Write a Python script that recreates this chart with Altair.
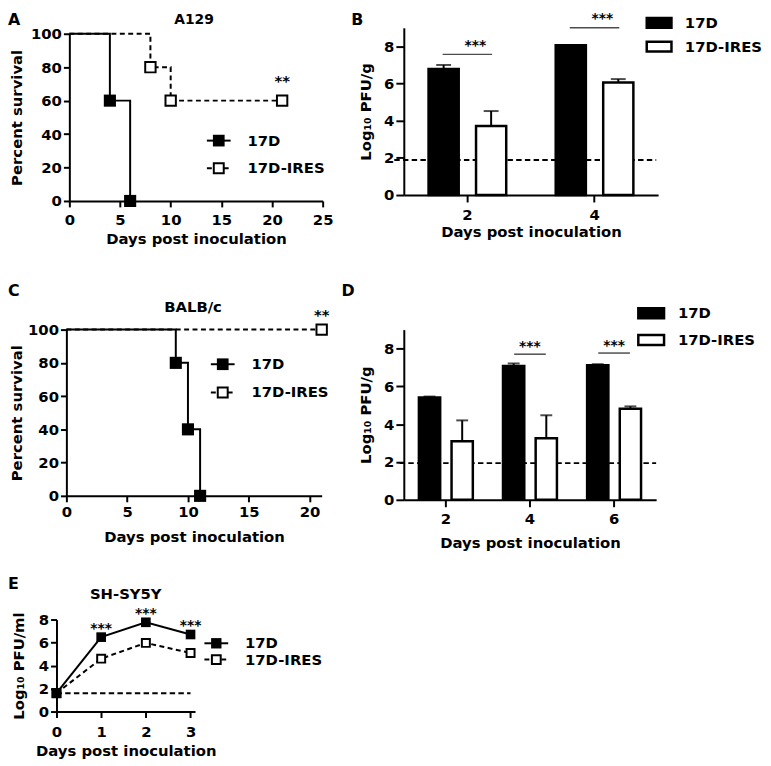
import altair as alt
import pandas as pd

FONT = "DejaVu Sans"
W, H = 763, 758
SERIES = ["17D", "17D-IRES"]

# ---------------- data ----------------
# Panel A (A129 survival)
A_DAYS_17D = [0, 4, 6]
A_SURV_17D = [100, 60, 0]
A_DAYS_IRES = [0, 8, 10, 21]
A_SURV_IRES = [100, 80, 60, 60]
A_SIG_DAY = [21]
A_SIG_Y = [72]

# Panel B (Log10 PFU/g, A129)
B_DAYS = ["2", "4"]
B_17D = [6.79, 8.06]
B_17D_TOP = [7.00, None]
B_IRES = [3.72, 6.06]
B_IRES_TOP = [4.52, 6.24]
B_SIG_DAYS = ["2", "4"]
B_SIG_LINE = [7.57, 9.0]
B_SIG_STAR = [8.0, 9.45]
B_LOD = 1.88
B_LOD_SPAN = [0.85, 4.97]

# Panel C (BALB/c survival)
C_DAYS_17D = [0, 9, 10, 11]
C_SURV_17D = [100, 80, 40, 0]
C_DAYS_IRES = [0, 21]
C_SURV_IRES = [100, 100]
C_SIG_DAY = [21]
C_SIG_Y = [109]

# Panel D (Log10 PFU/g, BALB/c)
D_DAYS = ["2", "4", "6"]
D_17D = [5.41, 7.07, 7.12]
D_17D_TOP = [5.46, 7.21, 7.17]
D_IRES = [3.10, 3.25, 4.82]
D_IRES_TOP = [4.20, 4.47, 4.94]
D_SIG_DAYS = ["4", "6"]
D_SIG_LINE = [7.70, 7.76]
D_SIG_STAR = [8.1, 8.15]
D_LOD = 1.94
D_LOD_SPAN = [0.9, 7.0]

# Panel E (SH-SY5Y growth)
E_DAYS = [0, 1, 2, 3]
E_17D = [1.6, 6.47, 7.76, 6.70]
E_IRES = [1.6, 4.60, 5.97, 5.09]
E_SIG_DAYS = [1, 2, 3]
E_SIG_Y = [7.2, 8.47, 7.47]
E_LOD = 1.6
E_LOD_SPAN = [0, 3]


# ---------------- helpers ----------------
def qs(domain, rng):
    return alt.Scale(domain=domain, range=rng, nice=False, zero=False)


def one():
    return pd.DataFrame({"k": [0]})


def label(text, x, y, size, align="center"):
    return alt.Chart(one()).mark_text(
        text=text, font=FONT, fontSize=size, fontWeight="bold",
        align=align, baseline="middle", color="black"
    ).encode(x=alt.value(x), y=alt.value(y))


def xaxis(y0, values, pad=4, lpad=5, tick=6):
    return alt.Axis(orient="bottom", offset=y0 - H, values=values,
                    title="Days post inoculation", titlePadding=pad,
                    labelPadding=lpad, tickSize=tick, labelAngle=0)


def yaxis(x0, values, title, pad=6, tick=6):
    return alt.Axis(orient="left", offset=-x0, values=values, title=title,
                    titlePadding=pad, tickSize=tick, labelPadding=2)


def survival_panel(d17, s17, dir_, sir, sig_day, sig_y, xdom, xrng, ydom, yrng, xvals,
                   lpad, tpad, ypad):
    XS = qs(xdom, xrng)
    YS = qs(ydom, yrng)
    XA = xaxis(yrng[0], xvals, pad=tpad, lpad=lpad)
    YA = yaxis(xrng[0], [0, 20, 40, 60, 80, 100], "Percent survival", pad=ypad)
    df17 = pd.DataFrame({"day": d17, "pct": s17})
    dfir = pd.DataFrame({"day": dir_, "pct": sir})
    sigdf = pd.DataFrame({"day": sig_day, "pct": sig_y})
    X = alt.X("day:Q", scale=XS, axis=XA)
    Y = alt.Y("pct:Q", scale=YS, axis=YA)
    line_ir = alt.Chart(dfir).mark_line(
        interpolate="step-after", color="black", strokeWidth=2, strokeDash=[5, 3.5]
    ).encode(x=X, y=Y)
    line_17 = alt.Chart(df17).mark_line(
        interpolate="step-after", color="black", strokeWidth=2
    ).encode(x=X, y=Y)
    pts_ir = alt.Chart(dfir).transform_filter("datum.day > 0").mark_point(
        shape="square", filled=True, fill="white", stroke="black", strokeWidth=2, size=110, opacity=1
    ).encode(x=X, y=Y)
    pts_17 = alt.Chart(df17).transform_filter("datum.day > 0").mark_point(
        shape="square", filled=True, color="black", size=150, opacity=1
    ).encode(x=X, y=Y)
    sig = alt.Chart(sigdf).mark_text(
        text="**", font=FONT, fontSize=15, fontWeight="bold", color="black"
    ).encode(x=X, y=Y)
    return alt.layer(line_ir, line_17, pts_ir, pts_17, sig)


def bar_panel(days, m17, t17, mir, tir, sig_days, sig_line, sig_star,
              xrng, yrng, pin, pout, cap, sigw, lpad, tpad, star_dx):
    XS = alt.Scale(domain=days, range=xrng, paddingInner=0, paddingOuter=0)
    YS = qs([0, 9], yrng)
    OS = alt.Scale(domain=SERIES, paddingInner=pin, paddingOuter=pout)
    FS = alt.Scale(domain=SERIES, range=["black", "white"])
    XA = xaxis(yrng[0], days, pad=tpad, lpad=lpad, tick=7)
    YA = yaxis(xrng[0], [0, 2, 4, 6, 8], "Log₁₀ PFU/g", pad=10, tick=8)
    bars = pd.DataFrame({
        "day": days * 2,
        "series": [SERIES[0]] * len(days) + [SERIES[1]] * len(days),
        "value": m17 + mir,
        "top": t17 + tir,
    })
    errs = bars.dropna(subset=["top"])
    sig = pd.DataFrame({"day": sig_days, "value": sig_line, "top": sig_star})

    X = alt.X("day:N", scale=XS, axis=XA, sort=days)
    YV = alt.Y("value:Q", scale=YS, axis=YA)
    YT = alt.Y("top:Q", scale=YS, axis=YA)
    off = alt.XOffset("series:N", scale=OS, sort=SERIES)
    b = alt.Chart(bars).mark_bar(stroke="black", strokeWidth=2.5).encode(
        x=X, xOffset=off, y=YV,
        fill=alt.Fill("series:N", scale=FS, legend=None),
    )
    er = alt.Chart(errs).mark_rule(color="black", strokeWidth=2).encode(
        x=X, xOffset=off, y=YV, y2="top:Q")
    ec = alt.Chart(errs).mark_tick(orient="horizontal", color="black", size=cap, thickness=2).encode(
        x=X, xOffset=off, y=YT)
    sl = alt.Chart(sig).mark_tick(orient="horizontal", color="black", size=sigw, thickness=1.5).encode(
        x=X, y=YV)
    st = alt.Chart(sig).mark_text(text="***", font=FONT, fontSize=14, fontWeight="bold",
                                  color="black", dx=star_dx).encode(x=X, y=YT)
    return alt.layer(b, er, ec, sl, st)


def lod_layer(level, span, xdom, xrng, ydom, yrng):
    df = pd.DataFrame({"x": [span[0]], "x2": [span[1]], "y": [level]})
    return alt.Chart(df).mark_rule(color="black", strokeWidth=2, strokeDash=[5.5, 3.3]).encode(
        x=alt.X("x:Q", scale=qs(xdom, xrng), axis=None), x2="x2:Q",
        y=alt.Y("y:Q", scale=qs(ydom, yrng), axis=None))


def legend_line(x, y, dashed, filled, text, size):
    rule_kw = dict(color="black", strokeWidth=2)
    if dashed:
        rule_kw["strokeDash"] = [5, 3.5]
    r = alt.Chart(one()).mark_rule(**rule_kw).encode(
        x=alt.value(x - 12), x2=alt.value(x + 12), y=alt.value(y))
    if filled:
        p = alt.Chart(one()).mark_point(shape="square", filled=True, color="black",
                                        size=size, opacity=1).encode(x=alt.value(x), y=alt.value(y))
    else:
        p = alt.Chart(one()).mark_point(shape="square", filled=True, fill="white", stroke="black",
                                        strokeWidth=2, size=size * 0.72, opacity=1).encode(
            x=alt.value(x), y=alt.value(y))
    t = label(text, x + 29, y, 15, align="left")
    return [r, p, t]


def legend_box(x0, x1, y, filled, text, tx):
    r = alt.Chart(one()).mark_rect(fill="black" if filled else "white", stroke="black",
                                   strokeWidth=2.5).encode(
        x=alt.value(x0), x2=alt.value(x1), y=alt.value(y - 5), y2=alt.value(y + 5))
    return [r, label(text, tx, y, 15, align="left")]


# ---------------- panels ----------------
panelA = survival_panel(A_DAYS_17D, A_SURV_17D, A_DAYS_IRES, A_SURV_IRES, A_SIG_DAY, A_SIG_Y,
                        [0, 25], [62, 318], [0, 100], [191, 22], [0, 5, 10, 15, 20, 25],
                        lpad=6, tpad=4, ypad=6)
panelC = survival_panel(C_DAYS_17D, C_SURV_17D, C_DAYS_IRES, C_SURV_IRES, C_SIG_DAY, C_SIG_Y,
                        [0, 21], [59, 317], [0, 100], [489, 321], [0, 5, 10, 15, 20],
                        lpad=3, tpad=10, ypad=3)

lodB = lod_layer(B_LOD, B_LOD_SPAN, [1, 5], [400, 657], [0, 9], [185, 16])
panelB = bar_panel(B_DAYS, B_17D, B_17D_TOP, B_IRES, B_IRES_TOP, B_SIG_DAYS, B_SIG_LINE, B_SIG_STAR,
                   [400, 657], [185, 16], 0.3646, 0.521, 15, 50, lpad=6, tpad=2, star_dx=8)
lodD = lod_layer(D_LOD, D_LOD_SPAN, [1, 7], [400, 655], [0, 9], [493, 321])
panelD = bar_panel(D_DAYS, D_17D, D_17D_TOP, D_IRES, D_IRES_TOP, D_SIG_DAYS, D_SIG_LINE, D_SIG_STAR,
                   [400, 655], [493, 321], 0.3485, 0.462, 12, 32, lpad=5, tpad=9, star_dx=0)

# Panel E
EX = qs([0, 3.1], [49, 189])
EY = qs([0, 8], [707, 614])
EXA = xaxis(707, [0, 1, 2, 3], pad=4, lpad=7)
EYA = yaxis(49, [0, 2, 4, 6, 8], "Log₁₀ PFU/ml", pad=12)
e17 = pd.DataFrame({"day": E_DAYS, "v": E_17D})
eir = pd.DataFrame({"day": E_DAYS, "v": E_IRES})
elod = pd.DataFrame({"day": [E_LOD_SPAN[0]], "day2": [E_LOD_SPAN[1]], "v": [E_LOD]})
esig = pd.DataFrame({"day": E_SIG_DAYS, "v": E_SIG_Y})
EXe = alt.X("day:Q", scale=EX, axis=EXA)
EYe = alt.Y("v:Q", scale=EY, axis=EYA)
e_lod = alt.Chart(elod).mark_rule(color="black", strokeWidth=2, strokeDash=[5.5, 3.3]).encode(
    x=EXe, x2="day2:Q", y=EYe)
e_line_ir = alt.Chart(eir).mark_line(color="black", strokeWidth=2, strokeDash=[5, 3.5]).encode(
    x=EXe, y=EYe)
e_line_17 = alt.Chart(e17).mark_line(color="black", strokeWidth=2).encode(x=EXe, y=EYe)
e_pts_ir = alt.Chart(eir).mark_point(shape="square", filled=True, fill="white", stroke="black",
                                     strokeWidth=2, size=65, opacity=1).encode(x=EXe, y=EYe)
e_pts_17 = alt.Chart(e17).mark_point(shape="square", filled=True, color="black", size=95,
                                     opacity=1).encode(x=EXe, y=EYe)
e_sig = alt.Chart(esig).mark_text(
    text="***", font=FONT, fontSize=14, fontWeight="bold", color="black").encode(
    x=EXe, y=EYe)
panelE = alt.layer(e_lod, e_line_ir, e_line_17, e_pts_ir, e_pts_17, e_sig)

# ---------------- annotations ----------------
annots = [
    label("A", 0, 8, 16, align="left"),
    label("B", 347, 8, 16, align="left"),
    label("C", 0, 282, 16, align="left"),
    label("D", 337, 282, 16, align="left"),
    label("E", 0, 578, 16, align="left"),
    label("A129", 188, 8, 14),
    label("BALB/c", 187, 298, 15),
    label("SH-SY5Y", 119, 588, 15),
]
annots += legend_line(213, 130, False, True, "17D", 140)
annots += legend_line(213, 158, True, False, "17D-IRES", 140)
annots += legend_line(217, 356, False, True, "17D", 140)
annots += legend_line(217, 384.5, True, False, "17D-IRES", 140)
annots += legend_line(210.5, 638, False, True, "17D", 110)
annots += legend_line(210.5, 654.5, True, False, "17D-IRES", 110)
annots += legend_box(645.5, 670.5, 11, True, "17D", 684)
annots += legend_box(645.5, 670.5, 35, False, "17D-IRES", 684)
annots += legend_box(637, 663, 304.5, True, "17D", 677)
annots += legend_box(637, 663, 331.5, False, "17D-IRES", 677)

chart = alt.layer(
    panelA, lodB, panelB, panelC, lodD, panelD, panelE, *annots
).resolve_scale(
    x="independent", y="independent", xOffset="independent", fill="independent"
).properties(
    width=W, height=H, padding=0, background="white",
    autosize=alt.AutoSizeParams(type="none"),
).configure_view(
    stroke=None
).configure_axis(
    domainColor="black", domainWidth=2, tickColor="black", tickWidth=2,
    labelFont=FONT, labelFontSize=15, labelFontWeight="bold", labelColor="black",
    titleFont=FONT, titleFontSize=15, titleFontWeight="bold", titleColor="black",
    grid=False, labelFlush=False, labelOverlap=False,
)

chart.save("out.html", embed_options={"renderer": "svg", "actions": False})
